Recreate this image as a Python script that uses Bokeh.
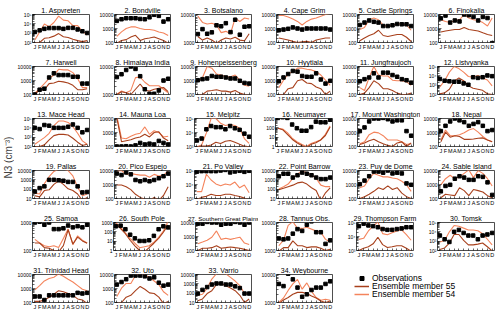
import math
from bokeh.plotting import figure
from bokeh.models import Range1d, FixedTicker, Label, Legend, LegendItem
from bokeh.layouts import row, column
from bokeh.embed import file_html
from bokeh.resources import INLINE

MONTHS = list(range(1, 13))
MONTH_LABELS = ["J", "F", "M", "A", "M", "J", "J", "A", "S", "O", "N", "D"]

STATIONS = ["1. Aspvreten", "2. Bondville", "3. Botsalano", "4. Cape Grim", "5. Castle Springs",
            "6. Finokalia", "7. Harwell", "8. Himalaya India", "9. Hohenpeissenberg", "10. Hyytiala",
            "11. Jungfraujoch", "12. Listvyanka", "13. Mace Head", "14. Mauna Loa", "15. Melpitz",
            "16. Neumayer", "17. Mount Washington", "18. Nepal", "19. Pallas", "20. Pico Espejo",
            "21. Po Valley", "22. Point Barrow", "23. Puy de Dome", "24. Sable Island", "25. Samoa",
            "26. South Pole", "27. Southern Great Plains", "28. Tannus Obs.", "29. Thompson Farm",
            "30. Tomsk", "31. Trinidad Head", "32. Uto", "33. Varrio", "34. Weybourne"]

# y-axis extent (log) per station, and whether tick labels use 10^n notation
Y_LO = [1e2, 1e2, 1e3, 1e2, 1e2, 1e2, 1e2, 1e3, 1e2, 1e2, 1e2, 1e2, 1e2, 1e2, 1e3, 1, 1e2, 1e2,
        10, 1e2, 1e3, 10, 1e2, 1e2, 1e2, 1, 1e2, 1e3, 1e3, 1e2, 1e2, 1e2, 10, 1e3]
Y_HI = [1e5, 1e4, 1e4, 1e4, 1e4, 1e4, 1e4, 1e4, 1e4, 1e4, 1e4, 1e5, 1e5, 1e4, 1e5, 1e3, 1e4, 1e4,
        1e4, 1e4, 1e5, 1e4, 1e4, 1e4, 1e3, 1e3, 1e4, 1e4, 1e5, 1e5, 1e4, 1e4, 1e4, 1e4]
SUP = [1, 0, 0, 0, 0, 0, 0, 0, 0, 0, 0, 1, 1, 0, 1, 0, 0, 0, 0, 0, 1, 0, 0, 0, 0, 0, 0, 0, 1, 1, 0, 0, 0, 0]

obs_1 = [1350, 2000, 2900, 3500, 3500, 3500, 2900, 3700, 3700, 2500, 1600, 1050]
m55_1 = [95, 100, 280, 320, 480, 900, 410, 350, 220, 160, 125, 160]
m54_1 = [190, 1350, 9500, 5000, 14000, 68000, 25000, 21000, 6500, 6500, 1700, 620]

obs_2 = [3500, 4600, 5400, 5400, 5400, 4800, 4600, 6300, 9500, 8000, 3100, 4600]
m55_2 = [90, 140, 160, 245, 325, 140, 185, 210, 245, 185, 140, 90]
m54_2 = [275, 570, 1000, 1300, 1300, 1000, 850, 850, 750, 570, 480, 320]

obs_3 = [2000, 3000, 2050, 2300, 4100, 3800, 4900, 2350, 6500, 1900, 3650, 3800]
m55_3 = [1630, 1220, 1450, 1220, 950, 1220, 1450, 1330, 1540, 1220, 1150, 2050]
m54_3 = [8700, 5200, 4600, 4900, 4200, 2250, 2500, 2050, 7500, 5600, 7500, 6900]

obs_4 = [750, 840, 950, 1200, 1000, 840, 1000, 1000, 1000, 1000, 1000, 840]
m55_4 = [210, 180, 150, 120, 100, 112, 120, 100, 150, 180, 210, 210]
m54_4 = [8400, 8400, 6700, 4700, 3200, 1780, 3200, 4700, 5600, 7500, 10000, 11800]

obs_5 = [1780, 2650, 3750, 3000, 2650, 1500, 1500, 1700, 2100, 2000, 2000, 1500]
m55_5 = [133, 210, 316, 420, 750, 316, 265, 316, 375, 375, 237, 118]
m54_5 = [840, 1200, 4200, 5600, 4200, 1780, 1330, 1780, 2100, 2100, 1780, 750]

obs_6 = [5300, 8400, 2650, 3750, 3200, 10000, 8900, 6700, 3750, 6700, 5600, 90]
m55_6 = [560, 670, 750, 840, 840, 1200, 840, 750, 670, 500, 375, 316]
m54_6 = [4200, 3200, 2650, 3750, 4200, 10000, 5600, 4200, 3750, 2650, 1500, 5600]

obs_7 = [100, 220, 260, 1650, 3250, 2450, 2450, 2450, 1850, 1850, 600, 600]
m55_7 = [100, 220, 220, 600, 670, 890, 800, 670, 455, 220, 220, 260]
m54_7 = [125, 260, 600, 1400, 2450, 6300, 5700, 5700, 3650, 1400, 310, 310]

obs_8 = [4200, 5300, 7500, 10000, 8200, 4500, 1540, 1060, 1060, 1400, 3150, 3650]
m55_8 = [1000, 1260, 1150, 1000, 1540, 2370, 1400, 1330, 1540, 1680, 1780, 1260]
m54_8 = [1000, 1330, 1150, 1400, 4000, 4200, 2740, 2050, 2050, 2050, 1540, 1150]

obs_9 = [1050, 1250, 1400, 2100, 1850, 1850, 1650, 1400, 1400, 950, 670, 600]
m55_9 = [85, 100, 175, 195, 220, 175, 175, 148, 195, 125, 100, 85]
m54_9 = [890, 1650, 10000, 7600, 2900, 2450, 1850, 1850, 2450, 1050, 455, 390]

obs_10 = [890, 1650, 2900, 4800, 4300, 2100, 1850, 1850, 3250, 1180, 600, 950]
m55_10 = [100, 100, 260, 310, 950, 1180, 670, 600, 345, 260, 100, 175]
m54_10 = [310, 1050, 2900, 4300, 7600, 7600, 6300, 5700, 4300, 2450, 1050, 455]

obs_11 = [890, 1250, 1650, 3250, 1650, 3650, 3650, 2450, 1850, 1250, 1050, 700]
m55_11 = [100, 125, 310, 950, 600, 260, 260, 195, 125, 100, 100, 125]
m54_11 = [310, 195, 1650, 10000, 2450, 2100, 2100, 1050, 950, 950, 800, 455]

obs_12 = [4600, 3000, 2600, 2350, 2350, 1550, 1100, 7100, 6000, 7100, 11000, 9200]
m55_12 = [120, 150, 360, 2600, 6000, 3000, 840, 460, 360, 280, 120, 100]
m54_12 = [650, 3000, 25000, 100000, 60000, 25000, 8500, 7100, 11000, 6000, 3600, 840]

obs_13 = [10000, 7400, 20000, 17000, 10000, 10000, 10000, 13000, 23000, 10000, 3300, 5900]
m55_13 = [100, 100, 150, 510, 1470, 2000, 2000, 1730, 770, 290, 128, 175]
m54_13 = [175, 400, 900, 2600, 17000, 53000, 53000, 38000, 13000, 2600, 400, 175]

obs_14 = [100, 100, 105, 100, 120, 180, 140, 160, 140, 250, 180, 140]
m55_14 = [11000, 220, 260, 300, 400, 480, 740, 480, 1000, 1130, 400, 260]
m54_14 = [15000, 400, 360, 540, 740, 890, 2500, 740, 1350, 1000, 480, 540]

obs_15 = [2700, 3700, 17000, 29000, 24000, 24000, 17000, 29000, 20000, 15500, 8300, 5000]
m55_15 = [950, 1060, 1060, 1280, 2000, 1650, 2400, 2700, 2000, 1450, 1060, 950]
m54_15 = [950, 1280, 9400, 100000, 100000, 45000, 32000, 37000, 32000, 20000, 3700, 1650]

obs_16 = [1150, 1380, 1150, 225, 91, 49, 49, 120, 460, 390, 390, 730]
m55_16 = [91, 63, 20, 6, 2.5, 1.3, 0.8, 1.7, 2.5, 5, 15, 120]
m54_16 = [91, 76, 31, 8, 3.2, 1.7, 1.0, 2.1, 3.2, 5, 20, 160]

obs_17 = [1260, 2300, 6200, 10000, 10000, 11000, 8900, 6200, 7400, 7400, 1260, 590]
m55_17 = [140, 180, 260, 325, 215, 160, 120, 100, 180, 215, 100, 180]
m54_17 = [160, 215, 700, 1060, 940, 590, 290, 290, 290, 215, 140, 160]

obs_18 = [1260, 3000, 6200, 10000, 7400, 5500, 3000, 4100, 5500, 3000, 1260, 1500]
m55_18 = [215, 1060, 460, 590, 520, 325, 325, 345, 390, 410, 290, 215]
m54_18 = [290, 1500, 590, 590, 700, 950, 1500, 1900, 1060, 520, 290, 215]

obs_19 = [55, 130, 200, 1000, 1000, 900, 800, 600, 600, 200, 45, 50]
m55_19 = [20, 15, 71, 85, 330, 780, 330, 110, 71, 30, 6, 13]
m54_19 = [36, 30, 390, 2150, 7900, 14000, 14000, 9800, 2600, 165, 20, 30]

obs_20 = [6000, 4700, 7300, 5300, 2100, 1700, 2100, 1700, 2100, 2800, 3900, 6000]
m55_20 = [910, 910, 700, 430, 200, 120, 88, 73, 120, 73, 165, 700]
m54_20 = [8900, 10000, 5300, 6000, 5300, 4700, 4700, 3300, 5300, 4000, 4700, 9000]

obs_21 = [83000, 90000, 90000, 90000, 90000, 100000, 110000, 73000, 85000, 95000, 80000, 95000]
m55_21 = [880, 1200, 1450, 2000, 1650, 1650, 2000, 2000, 1650, 1370, 1060, 730]
m54_21 = [3100, 3100, 54000, 21000, 11000, 8000, 11000, 9100, 15000, 5800, 9100, 2600]

obs_22 = [2350, 4500, 4500, 1750, 3100, 6000, 4500, 3100, 1750, 1200, 1200, 1750]
m55_22 = [87, 125, 185, 270, 470, 570, 350, 140, 72, 6, 41, 140]
m54_22 = [105, 185, 350, 1450, 4500, 8000, 6000, 3700, 1450, 270, 185, 185]

obs_23 = [1060, 1900, 3900, 8400, 8400, 7000, 10000, 6200, 7000, 6200, 1200, 950]
m55_23 = [100, 135, 200, 325, 590, 440, 790, 440, 590, 240, 135, 100]
m54_23 = [590, 790, 2600, 6200, 4600, 3500, 3500, 2900, 2600, 1700, 950, 325]

obs_24 = [325, 790, 950, 2600, 3900, 3100, 2150, 2150, 3900, 3500, 1420, 180]
m55_24 = [112, 200, 180, 160, 590, 365, 160, 440, 365, 290, 160, 112]
m54_24 = [950, 2600, 4600, 2600, 3500, 6200, 11000, 3100, 10000, 6200, 2600, 790]

obs_25 = [1000, 1070, 830, 1000, 580, 580, 620, 780, 670, 740, 670, 830]
m55_25 = [185, 185, 127, 120, 100, 90, 150, 550, 170, 300, 220, 180]
m54_25 = [250, 185, 148, 136, 148, 127, 270, 580, 162, 335, 234, 185]

obs_26 = [390, 460, 190, 49, 20, 10.5, 10.5, 12.5, 37, 190, 390, 300]
m55_26 = [730, 225, 63, 12.5, 3.2, 1, 0.7, 2, 6, 20, 91, 560]
m54_26 = [950, 300, 76, 20, 6, 2, 2.5, 3.2, 8, 26, 120, 1380]

obs_27 = [8300, 8300, 11000, 10000, 10000, 6900, 8300, 8300, 11000, 10000, 6900, 10000]
m55_27 = [100, 145, 145, 160, 220, 145, 160, 180, 160, 145, 120, 100]
m54_27 = [300, 400, 540, 890, 2500, 620, 740, 620, 740, 890, 340, 265]

obs_28 = [2700, 2500, 2700, 4000, 5800, 5000, 8300, 11000, 4500, 4500, 1720, 2300]
m55_28 = [940, 1270, 1270, 2200, 1480, 1480, 1270, 1350, 1350, 1200, 1000, 1100]
m54_28 = [1480, 2330, 7900, 10700, 6150, 6150, 6750, 5800, 5000, 4500, 2500, 2000]

obs_29 = [55000, 83000, 62000, 55000, 46000, 34000, 30000, 30000, 34000, 38000, 46000, 46000]
m55_29 = [1000, 1440, 1830, 3000, 8900, 2640, 1620, 1830, 2200, 2200, 1440, 890]
m54_29 = [6200, 7400, 25000, 55000, 110000, 16000, 13500, 18500, 25000, 30000, 13500, 5400]

obs_30 = [4000, 1600, 830, 10000, 16000, 7600, 4000, 4000, 1600, 4000, 5200, 7600]
m55_30 = [130, 190, 630, 5200, 5200, 1200, 400, 400, 480, 630, 250, 90]
m54_30 = [830, 1200, 10000, 48000, 40000, 25000, 16000, 16000, 13000, 6300, 1600, 400]

obs_31 = [270, 270, 150, 325, 325, 325, 325, 325, 325, 490, 440, 490]
m55_31 = [120, 120, 150, 240, 390, 700, 590, 440, 325, 180, 150, 85]
m54_31 = [790, 1610, 3450, 5200, 6300, 11000, 7400, 4600, 2900, 1610, 890, 700]

obs_32 = [1900, 2900, 4600, 8400, 8400, 8400, 7400, 5200, 6300, 2600, 1600, 1900]
m55_32 = [85, 100, 240, 325, 700, 1400, 890, 490, 440, 240, 85, 120]
m54_32 = [270, 1060, 2300, 2300, 8400, 13000, 9300, 6300, 3450, 1900, 590, 325]

obs_33 = [91, 225, 450, 840, 1090, 1090, 840, 840, 540, 350, 91, 91]
m55_33 = [15.5, 24, 91, 185, 840, 1090, 640, 350, 185, 59, 10, 24]
m54_33 = [59, 77, 350, 3200, 12000, 12000, 12000, 4900, 2000, 650, 91, 77]

obs_34 = [4600, 3850, 10700, 6700, 3400, 1600, 1960, 2800, 3400, 3400, 4600, 5700]
m55_34 = [920, 1240, 1500, 1960, 2300, 2300, 2100, 1700, 1450, 1130, 1000, 1130]
m54_34 = [1000, 1450, 2700, 4600, 6700, 3000, 5000, 2500, 1500, 1200, 1300, 1200]

OBS = [obs_1, obs_2, obs_3, obs_4, obs_5, obs_6, obs_7, obs_8, obs_9, obs_10, obs_11, obs_12,
       obs_13, obs_14, obs_15, obs_16, obs_17, obs_18, obs_19, obs_20, obs_21, obs_22, obs_23,
       obs_24, obs_25, obs_26, obs_27, obs_28, obs_29, obs_30, obs_31, obs_32, obs_33, obs_34]
M55 = [m55_1, m55_2, m55_3, m55_4, m55_5, m55_6, m55_7, m55_8, m55_9, m55_10, m55_11, m55_12,
       m55_13, m55_14, m55_15, m55_16, m55_17, m55_18, m55_19, m55_20, m55_21, m55_22, m55_23,
       m55_24, m55_25, m55_26, m55_27, m55_28, m55_29, m55_30, m55_31, m55_32, m55_33, m55_34]
M54 = [m54_1, m54_2, m54_3, m54_4, m54_5, m54_6, m54_7, m54_8, m54_9, m54_10, m54_11, m54_12,
       m54_13, m54_14, m54_15, m54_16, m54_17, m54_18, m54_19, m54_20, m54_21, m54_22, m54_23,
       m54_24, m54_25, m54_26, m54_27, m54_28, m54_29, m54_30, m54_31, m54_32, m54_33, m54_34]

LEGEND_LABELS = ["Observations", "Ensemble member 55", "Ensemble member 54"]

DARK = "#a8401c"
LIGHT = "#f4845c"
FONT = "Liberation Sans"
SUPDIG = {"0": "⁰", "1": "¹", "2": "²", "3": "³", "4": "⁴", "5": "⁵", "6": "⁶"}

CELL_H = 52
LAB_W = 14
FRAME_W = 57
TITLE_SIZE = {26: "6.2px"}


def borders(col):
    left = 18 if col == 0 else 17
    right = 5 if col == 5 else 7
    return left, right


def make_panel(i, col):
    lo, hi = Y_LO[i], Y_HI[i]
    left, right = borders(col)
    p = figure(width=left + FRAME_W + right, height=CELL_H, x_range=Range1d(0.5, 12.5),
               y_range=Range1d(lo, hi), y_axis_type="log", output_backend="svg",
               toolbar_location=None, min_border_left=left, min_border_right=right,
               min_border_top=14, min_border_bottom=9, title=STATIONS[i])
    p.title.align = "center"
    p.title.text_font = FONT
    p.title.text_font_size = TITLE_SIZE.get(i, "7px")
    p.title.text_font_style = "normal"
    p.title.text_color = "black"
    p.title.standoff = 1
    p.grid.visible = False
    p.outline_line_color = "#222222"
    p.outline_line_width = 0.8
    p.background_fill_color = "white"
    p.border_fill_color = "white"

    e0 = int(round(math.log10(lo)))
    e1 = int(round(math.log10(hi)))
    ticks = [10 ** e for e in range(e0, e1 + 1)]
    minors = [m * 10 ** e for e in range(e0, e1) for m in range(2, 10)]
    labels = {}
    for e, t in zip(range(e0, e1 + 1), ticks):
        labels[t] = ("10" + "".join(SUPDIG[c] for c in str(e))) if SUP[i] else str(t)
    ya = p.yaxis[0]
    ya.ticker = FixedTicker(ticks=ticks, minor_ticks=minors)
    ya.major_label_overrides = labels
    ya.major_label_text_font = FONT
    ya.major_label_text_font_size = "5px"
    ya.major_label_text_color = "black"
    ya.major_label_standoff = 1
    ya.major_tick_in = 3
    ya.major_tick_out = 0
    ya.minor_tick_in = 2
    ya.minor_tick_out = 0
    ya.axis_line_color = None
    ya.major_tick_line_width = 0.6
    ya.minor_tick_line_width = 0.6

    xa = p.xaxis[0]
    xa.ticker = FixedTicker(ticks=MONTHS, minor_ticks=[])
    xa.major_label_overrides = {m: lab for m, lab in zip(MONTHS, MONTH_LABELS)}
    xa.major_label_text_font = FONT
    xa.major_label_text_font_size = "5.5px"
    xa.major_label_text_color = "black"
    xa.major_label_standoff = 1
    xa.major_tick_in = 2
    xa.major_tick_out = 0
    xa.major_tick_line_width = 0.6
    xa.axis_line_color = None

    p.line(MONTHS, M54[i], color=LIGHT, line_width=1.1)
    p.line(MONTHS, M55[i], color=DARK, line_width=1.1)
    p.scatter(MONTHS, OBS[i], marker="square", size=3.5, color="black")
    return p


panels = [make_panel(i, i % 6) for i in range(len(STATIONS))]

# legend panel in the two empty cells of the last row; its renderers hold the
# last station's series, kept outside the visible x range so only the legend shows
lf = figure(width=160, height=CELL_H, output_backend="svg", toolbar_location=None, title=None,
            x_axis_location=None, y_axis_location=None, min_border=0,
            outline_line_color=None, x_range=Range1d(-3, -2), y_range=Range1d(1, 10))
lf.grid.visible = False
r_obs = lf.scatter(MONTHS, obs_34, marker="square", size=4.5, color="black")
r55 = lf.line(MONTHS, m55_34, color=DARK, line_width=1.5)
r54 = lf.line(MONTHS, m54_34, color=LIGHT, line_width=1.5)
for k, (lbl, rend) in enumerate(zip(LEGEND_LABELS, [r_obs, r55, r54])):
    lf.add_layout(Legend(items=[LegendItem(label=lbl, renderers=[rend])],
                         location=(15, 19 - 8 * k), border_line_color=None, background_fill_alpha=0,
                         label_text_font=FONT, label_text_font_size="8.5px", label_text_color="black",
                         label_height=10, glyph_height=10, glyph_width=15,
                         spacing=0, padding=0, margin=0, label_standoff=3))

rows = []
for r in range(6):
    kids = panels[6 * r: 6 * r + 6]
    if r == 5:
        kids = kids + [lf]
    rows.append(row(*kids, spacing=0))
grid = column(*rows, spacing=0)

lab = figure(width=LAB_W, height=6 * CELL_H, output_backend="svg", toolbar_location=None,
             title=None, x_axis_location=None, y_axis_location=None, min_border=0,
             outline_line_color=None, x_range=Range1d(0, 1), y_range=Range1d(0, 1))
lab.grid.visible = False
lab.add_layout(Label(x=8, y=6 * CELL_H - 157, x_units="screen", y_units="screen", text="N3 (cm⁻³)",
                     angle=math.pi / 2, text_align="center", text_baseline="middle",
                     text_font=FONT, text_font_size="10px"))

layout = row(lab, grid, spacing=0,
             styles={"position": "absolute", "left": "0px", "top": "0px"})

open("out.html", "w").write(file_html(layout, INLINE))
